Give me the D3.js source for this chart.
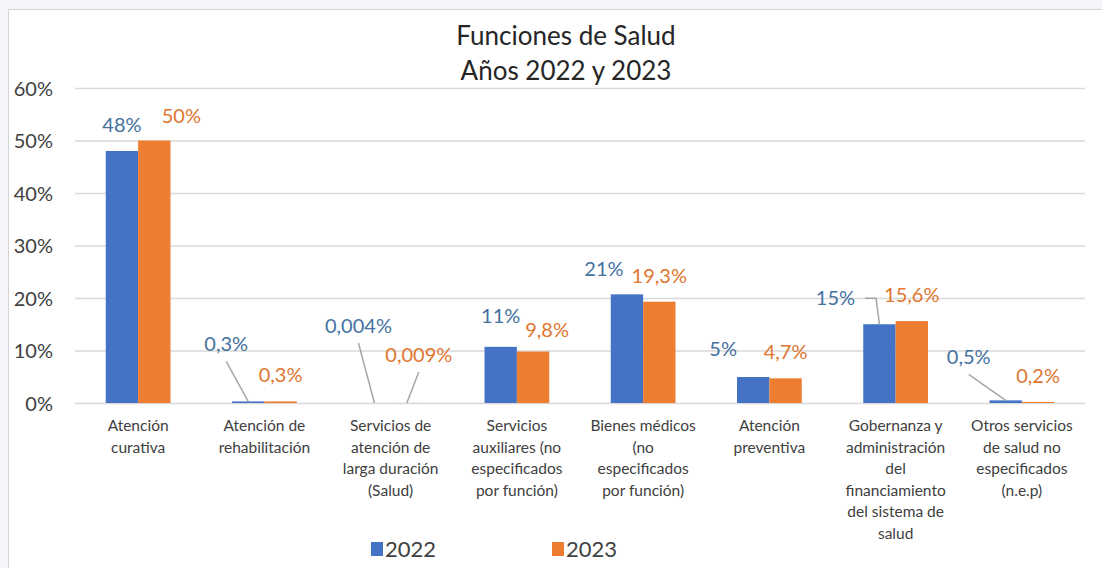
<!DOCTYPE html>
<html>
<head>
<meta charset="utf-8">
<script src="https://cdn.jsdelivr.net/npm/d3@7"></script>
<style>
  body { margin: 0; background: #f5f6fa; }
  svg { display: block; }
  .tick text { font-family: Lato, "Open Sans", sans-serif; font-size: 20px; fill: #404040; }
  .cat { font-family: Lato, "Open Sans", sans-serif; font-size: 15.5px; fill: #404040; }
  .lbl { font-family: Lato, "Open Sans", sans-serif; font-size: 20px; }
  .leg { font-family: Lato, "Open Sans", sans-serif; font-size: 22px; fill: #404040; }
  .title { font-family: Lato, "Open Sans", sans-serif; font-size: 26px; fill: #262626; }
</style>
</head>
<body>
<svg id="chart" width="1102" height="568"></svg>
<script>
const categories = [
  ["Atención", "curativa"],
  ["Atención de", "rehabilitación"],
  ["Servicios de", "atención de", "larga duración", "(Salud)"],
  ["Servicios", "auxiliares (no", "especificados", "por función)"],
  ["Bienes médicos", "(no", "especificados", "por función)"],
  ["Atención", "preventiva"],
  ["Gobernanza y", "administración", "del", "financiamiento", "del sistema de", "salud"],
  ["Otros servicios", "de salud no", "especificados", "(n.e.p)"]
];
const years = ["2022", "2023"];
const values2022 = [48, 0.3, 0.004, 10.7, 20.7, 4.95, 15, 0.5];
const values2023 = [50, 0.3, 0.009, 9.8, 19.3, 4.7, 15.6, 0.2];
const labels2022 = ["48%", "0,3%", "0,004%", "11%", "21%", "5%", "15%", "0,5%"];
const labels2023 = ["50%", "0,3%", "0,009%", "9,8%", "19,3%", "4,7%", "15,6%", "0,2%"];
const yTicks = [0, 10, 20, 30, 40, 50, 60];

// label layout: [dx, dy] moved from the default spot, plus leader type
const nudge2022 = [[0, 0], [-22, -31], [-16, -51], [0, -5], [-23, 1], [-30, -2], [-44, 0, "elbow"], [-37, -17]];
const nudge2023 = [[27, 1], [0, 0], [12, -22], [14, 4], [0, 0], [0, 0], [0, 0], [0, 0]];
const leader2022 = [false, true, true, false, false, false, true, true];
const leader2023 = [false, false, true, false, false, false, false, false];

const colors = ["#4472c4", "#ed7d31"];
const labelColors = ["#44719f", "#e0762f"];

const svg = d3.select("#chart");
svg.append("rect")
  .attr("x", 8.5).attr("y", 9.5).attr("width", 1110).attr("height", 580)
  .attr("fill", "#fff").attr("stroke", "#d4d4d8");

const margin = {left: 75, right: 1102 - 1085, top: 88, bottom: 568 - 403};
const x = d3.scaleBand().domain(d3.range(categories.length))
  .range([margin.left, 1102 - margin.right]);
const x1 = d3.scaleBand().domain(years).range([0, x.bandwidth()]).paddingInner(0).paddingOuter(0.95);
const y = d3.scaleLinear().domain([0, 60]).range([568 - margin.bottom, margin.top]);

// grid + y axis
const yAxis = svg.append("g")
  .attr("transform", `translate(${margin.left},0)`)
  .call(d3.axisLeft(y).tickValues(yTicks).tickFormat(d => d + "%")
    .tickSize(-(x.range()[1] - margin.left)).tickPadding(22));
yAxis.select(".domain").remove();
yAxis.selectAll(".tick line").attr("stroke", "#d9d9d9").attr("stroke-width", 1.5);
yAxis.selectAll(".tick text").attr("dy", "0.35em");

// title
svg.append("text").attr("class", "title").attr("x", 566).attr("y", 45)
  .attr("text-anchor", "middle").text("Funciones de Salud");
svg.append("text").attr("class", "title").attr("x", 566).attr("y", 80)
  .attr("text-anchor", "middle").text("Años 2022 y 2023");

const series = [values2022, values2023];
const labels = [labels2022, labels2023];
const nudges = [nudge2022, nudge2023];
const leaders = [leader2022, leader2023];

series.forEach((vals, s) => {
  const g = svg.append("g");
  g.selectAll("rect").data(vals).join("rect")
    .attr("x", (d, i) => x(i) + x1(years[s]))
    .attr("width", x1.bandwidth())
    .attr("y", d => y(d))
    .attr("height", d => y(0) - y(d))
    .attr("fill", colors[s]);
});

// data labels and leader lines
series.forEach((vals, s) => {
  vals.forEach((v, i) => {
    const bx = x(i) + x1(years[s]) + x1.bandwidth() / 2;
    const by = y(v);
    const n = nudges[s][i];
    const lx = bx + n[0], ly = by - 19 + n[1];
    const t = svg.append("text").attr("class", "lbl")
      .attr("x", lx).attr("y", ly).attr("text-anchor", "middle")
      .attr("fill", labelColors[s]).text(labels[s][i]);
    if (leaders[s][i]) {
      let pts;
      if (n[2] === "elbow") {
        const w = t.node().getComputedTextLength();
        const sx = lx + w / 2 + 10, sy = ly - 7;
        pts = [[sx, sy], [sx + 11, sy], [bx, by]];
      } else {
        pts = [[lx, ly + 10], [bx, by]];
      }
      svg.append("path").attr("d", d3.line()(pts))
        .attr("fill", "none").attr("stroke", "#a6a6a6").attr("stroke-width", 1.5);
    }
  });
});

// category labels
const cat = svg.append("g");
categories.forEach((lines, i) => {
  const t = cat.append("text").attr("class", "cat")
    .attr("x", x(i) + x.bandwidth() / 2).attr("y", 431).attr("text-anchor", "middle");
  lines.forEach((ln, k) => {
    t.append("tspan").attr("x", x(i) + x.bandwidth() / 2).attr("dy", k ? 21.5 : 0).text(ln);
  });
});

// legend
const legend = svg.append("g").attr("transform", "translate(371,549)");
years.forEach((yr, s) => {
  const lg = legend.append("g").attr("transform", `translate(${s * 181},0)`);
  lg.append("rect").attr("x", 0).attr("y", -7).attr("width", 12).attr("height", 14).attr("fill", colors[s]);
  lg.append("text").attr("class", "leg").attr("x", 14).attr("y", 0).attr("dy", "0.35em").text(yr);
});
</script>
</body>
</html>
